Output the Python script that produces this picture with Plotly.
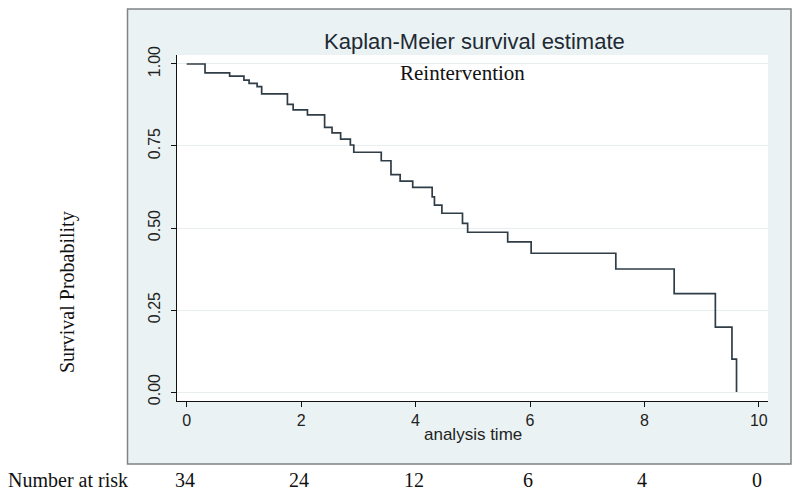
import plotly.graph_objects as go

# Kaplan-Meier step data
event_times = [0.32, 0.75, 1.00, 1.09, 1.23, 1.31, 1.76, 1.86, 2.11, 2.41, 2.54, 2.69, 2.86, 2.92,
               3.40, 3.57, 3.73, 3.95, 4.29, 4.33, 4.46, 4.82, 4.91, 5.61, 6.02, 7.50, 8.52,
               9.24, 9.53, 9.61]
survival = [0.973, 0.963, 0.951, 0.941, 0.931, 0.909, 0.877, 0.860, 0.845, 0.807, 0.790, 0.771,
            0.753, 0.731, 0.705, 0.663, 0.643, 0.624, 0.595, 0.570, 0.545, 0.514, 0.487, 0.458,
            0.423, 0.375, 0.300, 0.198, 0.100, 0.0]

risk_times = [0, 2, 4, 6, 8, 10]
risk_counts = [34, 24, 12, 6, 4, 0]

x_ticks = [0, 2, 4, 6, 8, 10]
y_ticks = [0, 0.25, 0.5, 0.75, 1.0]
y_tick_labels = ["0.00", "0.25", "0.50", "0.75", "1.00"]

xs = [0.0] + event_times
ys = [1.0] + survival

fig = go.Figure()
fig.add_trace(go.Scatter(x=xs, y=ys, mode="lines", line=dict(shape="hv", color="#2f3d47", width=1.7),
                         hoverinfo="skip", showlegend=False))

W, H = 800, 493
L, R, T, B = 177, 32, 55, 92
pw, ph = W - L - R, H - T - B

def px2paper(px, py):
    return (px - L) / pw, (H - B - py) / ph

fx0, fy0 = px2paper(127.5, 464)
fx1, fy1 = px2paper(791, 9)

shapes = [
    dict(type="rect", xref="paper", yref="paper", x0=fx0, y0=fy0, x1=fx1, y1=fy1,
         fillcolor="#eaf2f3", line=dict(color="#7f8486", width=1.5), layer="below"),
    dict(type="rect", xref="paper", yref="paper", x0=0, y0=0, x1=1, y1=1,
         fillcolor="white", line=dict(width=0), layer="below"),
]

serif = "Liberation Serif, Times New Roman, serif"
sans = "Liberation Sans, Arial, sans-serif"

annotations = [
    dict(text="Kaplan-Meier survival estimate", xref="paper", yref="paper",
         x=px2paper(474.5, 0)[0], y=px2paper(0, 41)[1], showarrow=False,
         font=dict(family=sans, size=22, color="#1e2a33"), xanchor="center", yanchor="middle"),
    dict(text="Reintervention", xref="paper", yref="paper",
         x=px2paper(462, 0)[0], y=px2paper(0, 73)[1], showarrow=False,
         font=dict(family=serif, size=21, color="#111"), xanchor="center", yanchor="middle"),
    dict(text="analysis time", xref="paper", yref="paper",
         x=px2paper(472.5, 0)[0], y=px2paper(0, 434)[1], showarrow=False,
         font=dict(family=sans, size=17, color="#222"), xanchor="center", yanchor="middle"),
    dict(text="Survival Probability", xref="paper", yref="paper",
         x=px2paper(67, 0)[0], y=px2paper(0, 292)[1], showarrow=False, textangle=-90,
         font=dict(family=serif, size=20, color="#111"), xanchor="center", yanchor="middle"),
    dict(text="Number at risk", xref="paper", yref="paper",
         x=px2paper(6, 0)[0], y=px2paper(0, 480)[1], showarrow=False,
         font=dict(family=serif, size=20, color="#111"), xanchor="left", yanchor="middle"),
]
for t, c in zip(risk_times, risk_counts):
    annotations.append(dict(text=str(c), xref="x", yref="paper", x=t, y=px2paper(0, 480)[1],
                            xshift=-2, showarrow=False,
                            font=dict(family=serif, size=20, color="#111"),
                            xanchor="center", yanchor="middle"))

fig.update_layout(
    width=W, height=H,
    margin=dict(l=L, r=R, t=T, b=B, pad=0),
    paper_bgcolor="white", plot_bgcolor="white",
    shapes=shapes, annotations=annotations,
    xaxis=dict(range=[-0.17, 10.16], tickvals=x_ticks, showgrid=False, zeroline=False,
               showline=True, linecolor="#111", linewidth=1.3, ticks="outside", ticklen=5,
               tickcolor="#111", tickfont=dict(family=sans, size=16, color="#222")),
    yaxis=dict(range=[-0.0274, 1.0274], tickvals=y_ticks, ticktext=y_tick_labels, tickangle=-90,
               showgrid=True, gridcolor="#e8eded", gridwidth=1, zeroline=False,
               showline=True, linecolor="#111", linewidth=1.3, ticks="outside", ticklen=5,
               tickcolor="#111", ticklabelstandoff=4,
               tickfont=dict(family=sans, size=16, color="#222")),
)

fig.write_html("out.html", config={"displayModeBar": False},
               post_script="document.body.style.margin='0px';")
